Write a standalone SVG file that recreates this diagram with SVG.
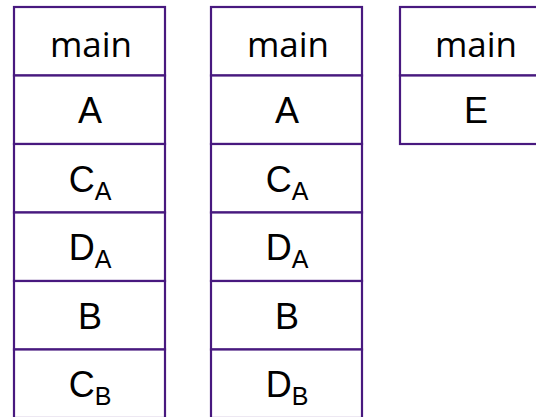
<svg xmlns="http://www.w3.org/2000/svg" width="536" height="417" viewBox="0 0 536 417">
  <style>
    .cell { fill: #ffffff; stroke: #48197f; stroke-width: 2.2; }
    .lbl { font-family: "Liberation Sans", Arial, sans-serif; font-size: 36px; fill: #000000; text-anchor: middle; }
    .main { font-family: "Open Sans", "DejaVu Sans", sans-serif; font-size: 35px; fill: #000000; text-anchor: middle; }
    .sub { font-size: 25px; }
  </style>
  <rect width="536" height="417" fill="#ffffff"/>

  <!-- stack 1 -->
  <g id="stack1">
    <rect class="cell" x="14" y="7" width="151" height="68.5"/>
    <rect class="cell" x="14" y="75.5" width="151" height="68.5"/>
    <rect class="cell" x="14" y="144" width="151" height="68.5"/>
    <rect class="cell" x="14" y="212.5" width="151" height="68.5"/>
    <rect class="cell" x="14" y="281" width="151" height="68.5"/>
    <rect class="cell" x="14" y="349.5" width="151" height="68.5"/>
    <text class="main" x="91" y="57">main</text>
    <text class="lbl" x="90" y="123">A</text>
    <text class="lbl" x="90" y="192">C<tspan class="sub" dy="8">A</tspan></text>
    <text class="lbl" x="90" y="260">D<tspan class="sub" dy="8">A</tspan></text>
    <text class="lbl" x="90" y="329">B</text>
    <text class="lbl" x="90" y="397">C<tspan class="sub" dy="8">B</tspan></text>
  </g>

  <!-- stack 2 -->
  <g id="stack2">
    <rect class="cell" x="211" y="7" width="151" height="68.5"/>
    <rect class="cell" x="211" y="75.5" width="151" height="68.5"/>
    <rect class="cell" x="211" y="144" width="151" height="68.5"/>
    <rect class="cell" x="211" y="212.5" width="151" height="68.5"/>
    <rect class="cell" x="211" y="281" width="151" height="68.5"/>
    <rect class="cell" x="211" y="349.5" width="151" height="68.5"/>
    <text class="main" x="288" y="57">main</text>
    <text class="lbl" x="287" y="123">A</text>
    <text class="lbl" x="287" y="192">C<tspan class="sub" dy="8">A</tspan></text>
    <text class="lbl" x="287" y="260">D<tspan class="sub" dy="8">A</tspan></text>
    <text class="lbl" x="287" y="329">B</text>
    <text class="lbl" x="287" y="397">D<tspan class="sub" dy="8">B</tspan></text>
  </g>

  <!-- stack 3 -->
  <g id="stack3">
    <rect class="cell" x="400" y="7" width="152" height="68.5"/>
    <rect class="cell" x="400" y="75.5" width="152" height="68.5"/>
    <text class="main" x="476" y="57">main</text>
    <text class="lbl" x="476" y="123">E</text>
  </g>

  <g id="connectors"/>
</svg>
